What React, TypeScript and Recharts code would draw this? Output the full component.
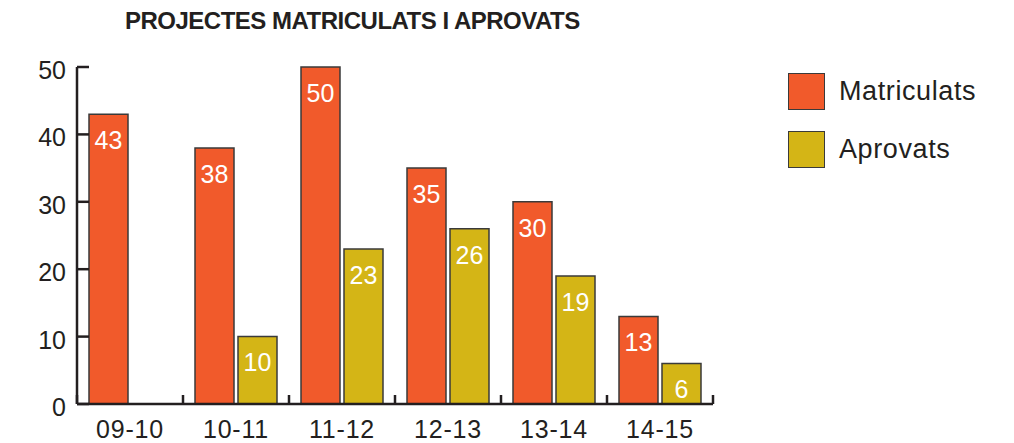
import { Bar, BarChart, LabelList, XAxis, YAxis } from "recharts";

const seasons = ["09-10", "10-11", "11-12", "12-13", "13-14", "14-15"];
const matriculats = [43, 38, 50, 35, 30, 13];
const aprovats: (number | null)[] = [null, 10, 23, 26, 19, 6];
const yTicks = [0, 10, 20, 30, 40, 50];

const data = seasons.map((season, i) => ({
  season,
  Matriculats: matriculats[i],
  Aprovats: aprovats[i],
}));

const ORANGE = "#f15a2b";
const YELLOW = "#d4b516";
const INK = "#231f20";
const FONT = "'Liberation Sans', Arial, sans-serif";

const legendItems = [
  { name: "Matriculats", color: ORANGE },
  { name: "Aprovats", color: YELLOW },
];

const Y_TICK_MARGIN = 11;
const TICK_LEN = 12;

// y ticks point into the plot, labels stay outside
function YTick(props: any) {
  const { x, y, payload } = props;
  const axisX = x + Y_TICK_MARGIN;
  return (
    <g>
      <line x1={axisX} x2={axisX + TICK_LEN} y1={y} y2={y} stroke={INK} strokeWidth={2.5} />
      <text
        x={x}
        y={y}
        dy={12}
        textAnchor="end"
        fill={INK}
        fontSize={25}
        fontFamily={FONT}
      >
        {payload.value}
      </text>
    </g>
  );
}

// category label plus an upward separator tick at the band edge
function XTick(props: any) {
  const { x, y, payload, index } = props;
  const half = payload.offset ?? 0;
  const axisY = y - 18;
  return (
    <g>
      {index === 0 && (
        <line x1={x - half} x2={x - half} y1={axisY} y2={axisY - 9} stroke={INK} strokeWidth={2.5} />
      )}
      <line x1={x + half} x2={x + half} y1={axisY} y2={axisY - 9} stroke={INK} strokeWidth={2.5} />
      <text
        x={x}
        y={y}
        dy={16}
        textAnchor="middle"
        fill={INK}
        fontSize={25}
        fontFamily={FONT}
        letterSpacing={0.8}
      >
        {payload.value}
      </text>
    </g>
  );
}

export default function App() {
  return (
    <div
      style={{
        position: "fixed",
        left: 0,
        top: 0,
        width: 1014,
        height: 443,
        background: "#fff",
        fontFamily: FONT,
      }}
    >
      <div
        style={{
          position: "absolute",
          left: 125,
          top: 7,
          fontSize: 24,
          fontWeight: 700,
          color: INK,
          letterSpacing: -0.5,
          whiteSpace: "nowrap",
        }}
      >
        PROJECTES MATRICULATS I APROVATS
      </div>

      <BarChart
        width={1014}
        height={443}
        data={data}
        margin={{ top: 67, right: 301, left: 0, bottom: 0 }}
        barSize={39}
        barGap={4}
      >
        <XAxis
          dataKey="season"
          height={39}
          tickLine={false}
          tickSize={0}
          tickMargin={18}
          axisLine={{ stroke: INK, strokeWidth: 2.5 }}
          tick={<XTick />}
        />
        <YAxis
          width={77}
          domain={[0, 50]}
          ticks={yTicks}
          interval={0}
          tickLine={false}
          tickSize={0}
          tickMargin={Y_TICK_MARGIN}
          axisLine={{ stroke: INK, strokeWidth: 2.5 }}
          tick={<YTick />}
        />
        <Bar
          dataKey="Matriculats"
          fill={ORANGE}
          stroke="#3a3a3a"
          strokeWidth={1.5}
          isAnimationActive={false}
        >
          <LabelList
            dataKey="Matriculats"
            position="insideTop"
            offset={17}
            fill="#fff"
            fontSize={25}
            fontFamily={FONT}
          />
        </Bar>
        <Bar
          dataKey="Aprovats"
          fill={YELLOW}
          stroke="#3a3a3a"
          strokeWidth={1.5}
          isAnimationActive={false}
        >
          <LabelList
            dataKey="Aprovats"
            position="insideTop"
            offset={17}
            fill="#fff"
            fontSize={25}
            fontFamily={FONT}
          />
        </Bar>
      </BarChart>

      {legendItems.map((item, i) => (
        <div
          key={item.name}
          style={{
            position: "absolute",
            left: 788,
            top: 73 + i * 58,
            display: "flex",
            alignItems: "center",
            gap: 14,
          }}
        >
          <div
            style={{
              width: 35,
              height: 35,
              background: item.color,
              border: "1.5px solid #3a3a3a",
            }}
          />
          <span style={{ fontSize: 27, color: INK, letterSpacing: 0.6 }}>{item.name}</span>
        </div>
      ))}
    </div>
  );
}
